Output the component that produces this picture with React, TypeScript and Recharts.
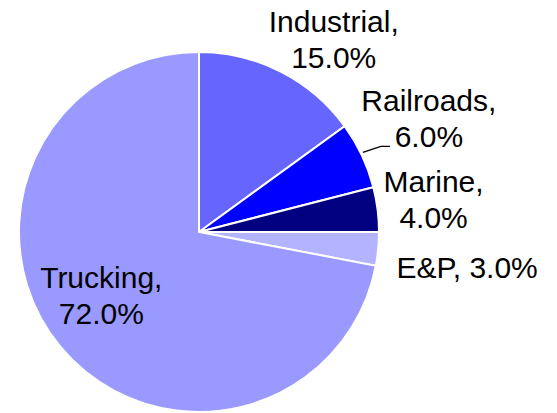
import React from "react";
import { PieChart, Pie, Cell } from "recharts";

const categories = ["Industrial", "Railroads", "Marine", "E&P", "Trucking"];
const shares = [15.0, 6.0, 4.0, 3.0, 72.0];

const colors: Record<string, string> = {
  Industrial: "#6666FF",
  Railroads: "#0000FF",
  Marine: "#000080",
  "E&P": "#B3B3FF",
  Trucking: "#9999FF",
};

// label placement relative to the outer edge point at the slice's mid angle
const labelPos: Record<string, { dx: number; dy: number; oneLine?: boolean }> = {
  Industrial: { dx: 53, dy: -40 },
  Railroads: { dx: 67, dy: -44 },
  Marine: { dx: 56, dy: -17 },
  "E&P": { dx: 89, dy: 29, oneLine: true },
  Trucking: { dx: 41, dy: -59 },
};

const data = categories.map((name, i) => ({ name, value: shares[i] }));

const RAD = Math.PI / 180;
const FONT = "'Liberation Sans', Arial, sans-serif";

function renderLabel(props: any) {
  const { cx, cy, outerRadius, midAngle, index } = props;
  const name = categories[index];
  const pct = shares[index].toFixed(1) + "%";
  const ox = cx + outerRadius * Math.cos(-midAngle * RAD);
  const oy = cy + outerRadius * Math.sin(-midAngle * RAD);
  const p = labelPos[name];
  const x = ox + p.dx;
  const y = oy + p.dy;
  return (
    <g key={`lbl-${name}`}>
      {name === "Railroads" && (
        <polyline
          points={`${ox + 1},${oy - 3} ${ox + 19},${oy - 9} ${ox + 28},${oy - 9}`}
          fill="none"
          stroke="#000"
          strokeWidth={1.4}
        />
      )}
      <text x={x} y={y} textAnchor="middle" fontFamily={FONT} fontSize={30} fill="#000">
        {p.oneLine ? (
          `${name}, ${pct}`
        ) : (
          <>
            <tspan x={x} dy={0}>{name},</tspan>
            <tspan x={x} dy={36}>{pct}</tspan>
          </>
        )}
      </text>
    </g>
  );
}

export default function App() {
  return (
    <div style={{ position: "absolute", left: 0, top: 0, background: "#fff" }}>
      <PieChart width={557} height={413} margin={{ top: 0, right: 0, bottom: 0, left: 0 }}>
        <Pie
          data={data}
          dataKey="value"
          nameKey="name"
          cx={199}
          cy={232}
          outerRadius={180}
          startAngle={90}
          endAngle={-270}
          stroke="#fff"
          strokeWidth={2}
          label={renderLabel}
          labelLine={false}
          isAnimationActive={false}
        >
          {data.map((d) => (
            <Cell key={d.name} fill={colors[d.name]} />
          ))}
        </Pie>
      </PieChart>
    </div>
  );
}
